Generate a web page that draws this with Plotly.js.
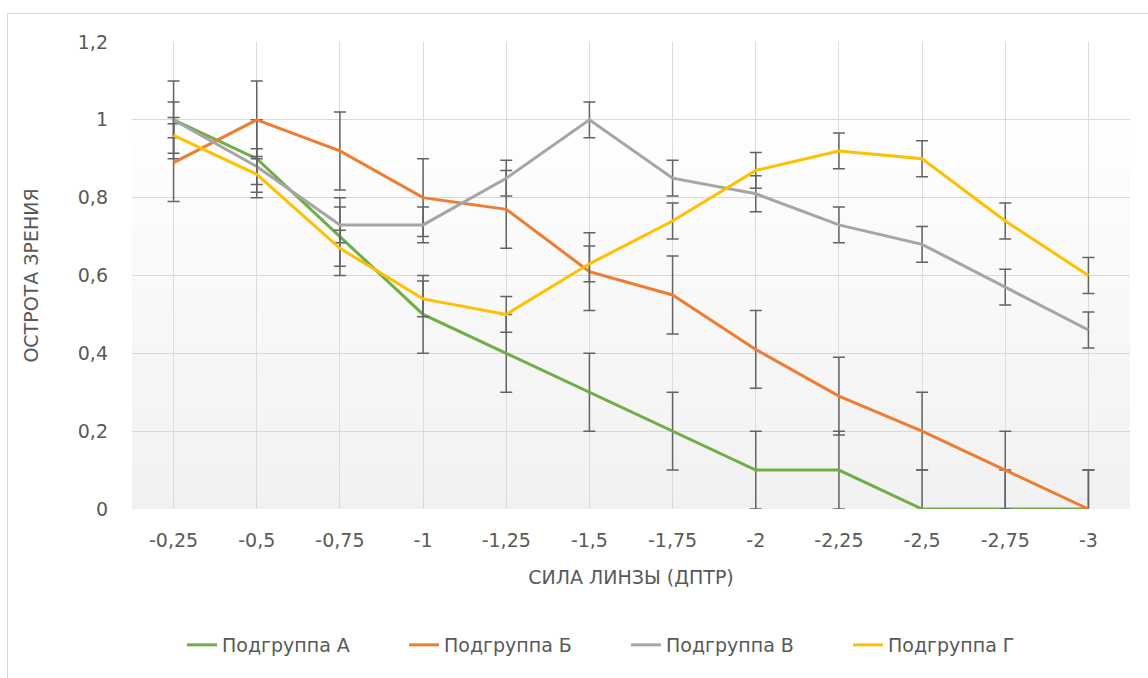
<!DOCTYPE html>
<html>
<head>
<meta charset="utf-8">
<script src="https://cdn.plot.ly/plotly-3.0.1.min.js"></script>
<style>
html,body{margin:0;padding:0;background:#fff;}
#chart{width:1148px;height:678px;}
</style>
</head>
<body>
<div id="chart"></div>
<script>
// ---- data ----
const categories = ['-0,25','-0,5','-0,75','-1','-1,25','-1,5','-1,75','-2','-2,25','-2,5','-2,75','-3'];
const seriesNames = ['Подгруппа А','Подгруппа Б','Подгруппа В','Подгруппа Г'];
const groupA = [1.0, 0.9, 0.7, 0.5, 0.4, 0.3, 0.2, 0.1, 0.1, 0, 0, 0];
const groupB = [0.89, 1.0, 0.92, 0.8, 0.77, 0.61, 0.55, 0.41, 0.29, 0.2, 0.1, 0];
const groupV = [1.0, 0.88, 0.73, 0.73, 0.85, 1.0, 0.85, 0.81, 0.73, 0.68, 0.57, 0.46];
const groupG = [0.96, 0.86, 0.67, 0.54, 0.5, 0.63, 0.74, 0.87, 0.92, 0.9, 0.74, 0.6];
const errA = [0.1,0.1,0.1,0.1,0.1,0.1,0.1,0.1,0.1,0.1,0.1,0.1];
const errB = [0.1,0.1,0.1,0.1,0.1,0.1,0.1,0.1,0.1,0.1,0.1,0.1];
const errV = [0.046,0.046,0.046,0.046,0.046,0.046,0.046,0.046,0.046,0.046,0.046,0.046];
const errG = [0.046,0.046,0.046,0.046,0.046,0.046,0.046,0.046,0.046,0.046,0.046,0.046];
const colors = ['#70AD47','#ED7D31','#A5A5A5','#FFC000'];
const yTicks = [0, 0.2, 0.4, 0.6, 0.8, 1, 1.2];

// ---- layout geometry ----
const W = 1148, H = 678;
const M = {l:132, r:18, t:42, b:169};
const pw = W - M.l - M.r, ph = H - M.t - M.b;
const px = x => (x - M.l) / pw;       // pixel -> paper x
const py = y => (H - M.b - y) / ph;   // pixel -> paper y

const allY = [groupA, groupB, groupV, groupG];
const allE = [errA, errB, errV, errG];
const traces = allY.map((ys, i) => ({
  type: 'scatter',
  mode: 'lines',
  name: seriesNames[i],
  x: categories,
  y: ys,
  line: {color: colors[i], width: 3},
  error_y: {type: 'data', array: allE[i], visible: true, color: '#636363', thickness: 1.5, width: 6},
  hoverinfo: 'x+y+name'
}));

// background gradient (white top -> light grey bottom)
const shapes = [];
const bands = 60;
for (let k = 0; k < bands; k++) {
  const y0 = k / bands, y1 = (k + 1) / bands;
  const t = Math.min(1, ((y0 + y1) / 2) / 0.88);
  const v = Math.round(241 + (255 - 241) * t);
  shapes.push({type:'rect', xref:'paper', yref:'paper', x0:0, x1:1, y0:y0, y1:y1,
    fillcolor:`rgb(${v},${v},${v})`, line:{width:0}, layer:'below'});
}
// chart-area border (top and left edges visible)
shapes.push({type:'line', xref:'paper', yref:'paper', x0:px(7), x1:px(W+5), y0:py(13.5), y1:py(13.5), line:{color:'#d9d9d9', width:1}});
shapes.push({type:'line', xref:'paper', yref:'paper', x0:px(7.5), x1:px(7.5), y0:py(13.5), y1:py(H+5), line:{color:'#d9d9d9', width:1}});

const FAM = 'DejaVu Sans, sans-serif';
const TXT = '#595959';

const layout = {
  width: W, height: H,
  margin: M,
  paper_bgcolor: '#ffffff',
  plot_bgcolor: 'rgba(0,0,0,0)',
  separators: ', ',
  font: {family: FAM, size: 19, color: TXT},
  showlegend: true,
  xaxis: {
    type: 'category',
    range: [-0.5, categories.length - 0.5],
    showgrid: true, gridcolor: '#dcdcdc', gridwidth: 1.3,
    zeroline: false, showline: false, ticks: '',
    ticklabelstandoff: 18,
    tickfont: {family: FAM, size: 19, color: TXT},
    title: {text: 'СИЛА ЛИНЗЫ (ДПТР)', font: {family: FAM, size: 19, color: TXT}, standoff: 20},
    fixedrange: true
  },
  yaxis: {
    range: [0, 1.2],
    tickvals: yTicks,
    showgrid: true, gridcolor: '#d9d9d9', gridwidth: 1.3,
    zeroline: false, showline: false, ticks: '',
    ticklabelstandoff: 23,
    tickfont: {family: FAM, size: 19, color: TXT},
    title: {text: 'ОСТРОТА ЗРЕНИЯ', font: {family: FAM, size: 19, color: TXT}, standoff: 34},
    fixedrange: true
  },
  legend: {
    orientation: 'h',
    x: px(182), xanchor: 'left',
    y: py(645), yanchor: 'middle',
    font: {family: FAM, size: 19, color: TXT},
    entrywidth: 177,
    bgcolor: 'rgba(0,0,0,0)'
  },
  shapes: shapes
};

Plotly.newPlot('chart', traces, layout, {displayModeBar:false, responsive:false});
</script>
</body>
</html>
